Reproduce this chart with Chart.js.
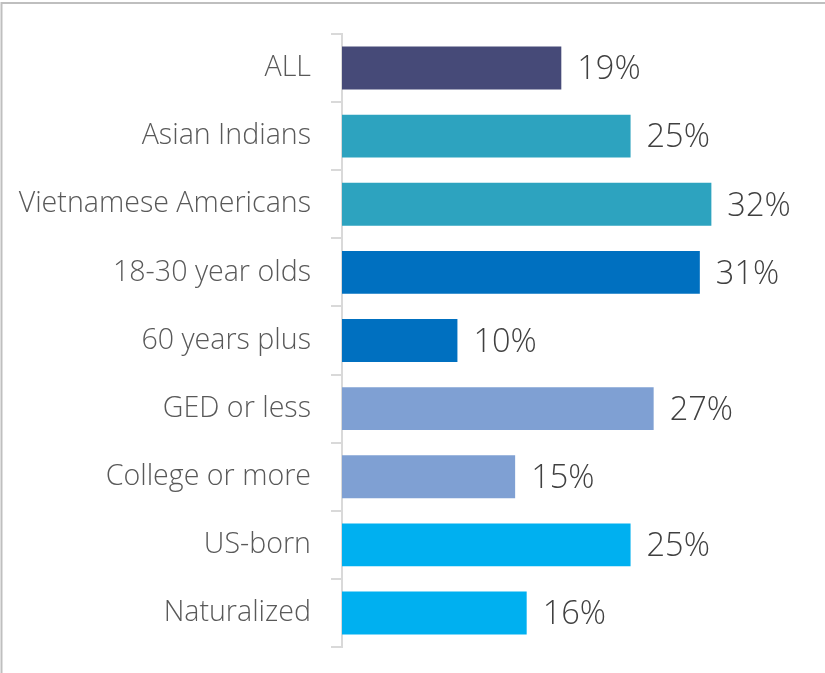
<!DOCTYPE html>
<html>
<head>
<meta charset="utf-8">
<script src="https://cdn.jsdelivr.net/npm/chart.js@4"></script>
<style>
    body { margin: 0; background: #fff; }
</style>
</head>
<body>
<canvas id="chart" width="825" height="673"></canvas>
<script>
const categories = ['ALL', 'Asian Indians', 'Vietnamese Americans', '18-30 year olds', '60 years plus', 'GED or less', 'College or more', 'US-born', 'Naturalized'];
const values = [19, 25, 32, 31, 10, 27, 15, 25, 16];
const barColors = ['#464A78', '#2DA3BF', '#2DA3BF', '#0070C0', '#0070C0', '#7FA0D3', '#7FA0D3', '#00B0F0', '#00B0F0'];

const fontFamily = "'Open Sans', sans-serif";

// frame lines on top and left, like the cropped chart border
const frame = {
    id: 'frame',
    beforeDraw(chart) {
        const ctx = chart.ctx;
        ctx.save();
        ctx.fillStyle = '#fff';
        ctx.fillRect(0, 0, chart.width, chart.height);
        ctx.strokeStyle = '#BFBFBF';
        ctx.lineWidth = 2;
        ctx.beginPath();
        ctx.moveTo(1.5, chart.height);
        ctx.lineTo(1.5, 3);
        ctx.lineTo(chart.width, 3);
        ctx.stroke();
        ctx.restore();
    }
};

// percent labels at the end of each bar
const valueLabels = {
    id: 'valueLabels',
    afterDatasetsDraw(chart) {
        const ctx = chart.ctx;
        const meta = chart.getDatasetMeta(0);
        ctx.save();
        ctx.font = '300 32.5px ' + fontFamily;
        ctx.fillStyle = '#404040';
        ctx.textAlign = 'left';
        ctx.textBaseline = 'middle';
        meta.data.forEach((bar, i) => {
            ctx.fillText(values[i] + '%', bar.x + 16, bar.y + 2);
        });
        ctx.restore();
    }
};

new Chart(document.getElementById('chart'), {
    type: 'bar',
    data: {
        labels: categories,
        datasets: [{
            data: values,
            backgroundColor: barColors,
            borderWidth: 0,
            categoryPercentage: 1,
            barPercentage: 0.63
        }]
    },
    options: {
        indexAxis: 'y',
        responsive: false,
        animation: false,
        layout: {
            padding: { left: 0, right: 79, top: 34, bottom: 26 }
        },
        plugins: {
            legend: { display: false },
            tooltip: { enabled: false }
        },
        scales: {
            x: {
                display: false,
                min: 0,
                max: 35
            },
            y: {
                afterFit(scale) {
                    scale.width = 342;
                    scale.paddingTop = 0;
                    scale.paddingBottom = 0;
                },
                border: { color: '#D9D9D9', width: 2 },
                grid: {
                    offset: true,
                    drawOnChartArea: false,
                    color: '#D9D9D9',
                    lineWidth: 2,
                    tickLength: 11
                },
                ticks: {
                    color: '#595959',
                    padding: 20,
                    font: { family: fontFamily, size: 28.6, weight: '300' }
                }
            }
        }
    },
    plugins: [frame, valueLabels]
});
</script>
</body>
</html>
